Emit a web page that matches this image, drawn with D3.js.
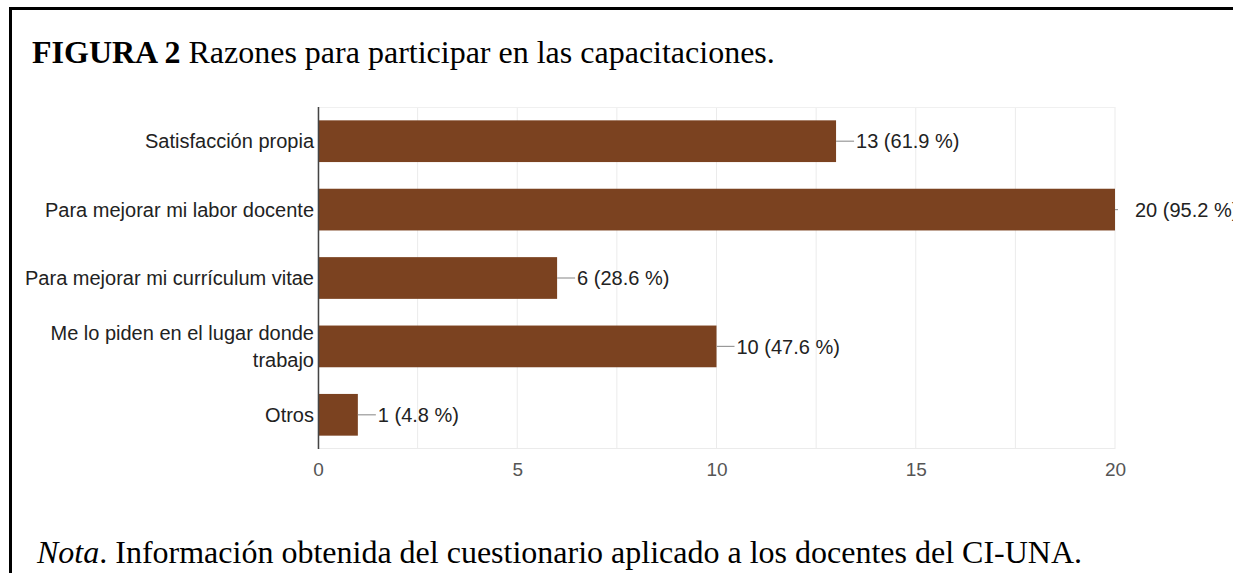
<!DOCTYPE html>
<html>
<head>
<meta charset="utf-8">
<script src="https://cdn.jsdelivr.net/npm/d3@7"></script>
<style>
  body { margin: 0; background: #fff; }
  svg { display: block; }
</style>
</head>
<body>
<div id="chart"></div>
<script>
// Data
const categories = [
    ["Satisfacción propia"],
    ["Para mejorar mi labor docente"],
    ["Para mejorar mi currículum vitae"],
    ["Me lo piden en el lugar donde", "trabajo"],
    ["Otros"]
];
const counts = [13, 20, 6, 10, 1];
const percents = ["61.9", "95.2", "28.6", "47.6", "4.8"];
const xTicks = [0, 5, 10, 15, 20];

const W = 1233, H = 573;
const margin = { top: 107, left: 318, right: 118, bottom: 124 };
const width = W - margin.left - margin.right;
const height = H - margin.top - margin.bottom;

const svg = d3.select("#chart")
    .append("svg")
    .attr("width", W)
    .attr("height", H);

// Frame of the figure (only left and top edges show)
svg.append("path")
    .attr("d", `M10.5,${H} V8.5 H${W}`)
    .attr("fill", "none")
    .attr("stroke", "#000")
    .attr("stroke-width", 3);

// Title
const title = svg.append("text")
    .attr("x", 32)
    .attr("y", 63)
    .style("font-family", "'Liberation Serif', 'Times New Roman', serif")
    .style("font-size", "32px")
    .style("fill", "#000");
title.append("tspan").style("font-weight", "bold").text("FIGURA 2");
title.append("tspan").text(" Razones para participar en las capacitaciones.");

const g = svg.append("g")
    .attr("transform", `translate(${margin.left},${margin.top})`);

const x = d3.scaleLinear().domain([0, 20]).range([0, width]);
const y = d3.scaleBand()
    .domain(d3.range(categories.length))
    .range([0, height])
    .paddingInner(0.39)
    .paddingOuter(0.195);

// Gridlines every 2.5
g.selectAll(".grid")
    .data(d3.range(0, 20.01, 2.5))
    .enter()
    .append("line")
    .attr("class", "grid")
    .attr("x1", d => x(d)).attr("x2", d => x(d))
    .attr("y1", 0).attr("y2", height)
    .style("stroke", "#ebebeb")
    .style("stroke-width", 1);

g.append("line")
    .attr("x1", 0).attr("x2", width)
    .attr("y1", 0.5).attr("y2", 0.5)
    .style("stroke", "#f0f0f0");
g.append("line")
    .attr("x1", 0).attr("x2", width)
    .attr("y1", height - 0.5).attr("y2", height - 0.5)
    .style("stroke", "#ebebeb");

// Bars
g.selectAll(".bar")
    .data(counts)
    .enter()
    .append("rect")
    .attr("class", "bar")
    .attr("x", 0)
    .attr("y", (d, i) => y(i))
    .attr("width", d => x(d))
    .attr("height", y.bandwidth())
    .style("fill", "#7b4220");

// Baseline axis
g.append("line")
    .attr("x1", 0.5).attr("x2", 0.5)
    .attr("y1", 0).attr("y2", height)
    .style("stroke", "#444")
    .style("stroke-width", 1.5);

// Connector lines and value labels
g.selectAll(".leader")
    .data(counts)
    .enter()
    .append("line")
    .attr("class", "leader")
    .attr("x1", d => x(d))
    .attr("x2", d => Math.min(x(d) + 18, width + 3))
    .attr("y1", (d, i) => y(i) + y.bandwidth() / 2)
    .attr("y2", (d, i) => y(i) + y.bandwidth() / 2)
    .style("stroke", "#999")
    .style("stroke-width", 1.2);

g.selectAll(".value")
    .data(counts)
    .enter()
    .append("text")
    .attr("class", "value")
    .attr("x", d => x(d) + 20)
    .attr("y", (d, i) => y(i) + y.bandwidth() / 2)
    .attr("dy", "0.36em")
    .text((d, i) => `${d} (${percents[i]} %)`)
    .style("font-family", "'Liberation Sans', Arial, sans-serif")
    .style("font-size", "20px")
    .style("fill", "#222");

// Category labels
const cat = g.selectAll(".cat")
    .data(categories)
    .enter()
    .append("text")
    .attr("class", "cat")
    .attr("text-anchor", "end")
    .attr("y", (d, i) => y(i) + y.bandwidth() / 2)
    .style("font-family", "'Liberation Sans', Arial, sans-serif")
    .style("font-size", "20px")
    .style("fill", "#222");
cat.each(function(lines) {
    const t = d3.select(this);
    const lh = 27;
    lines.forEach((line, k) => {
        t.append("tspan")
            .attr("x", -4)
            .attr("dy", k === 0 ? (0.36 * 20 - (lines.length - 1) * lh / 2) : lh)
            .text(line);
    });
});

// X axis
const xAxis = g.append("g")
    .attr("transform", `translate(0,${height})`)
    .call(d3.axisBottom(x).tickValues(xTicks).tickSize(0).tickPadding(14));
xAxis.select(".domain").remove();
xAxis.selectAll("text")
    .style("font-family", "'Liberation Sans', Arial, sans-serif")
    .style("font-size", "19px")
    .style("fill", "#555");

// Note
const note = svg.append("text")
    .attr("x", 37)
    .attr("y", 563)
    .style("font-family", "'Liberation Serif', 'Times New Roman', serif")
    .style("font-size", "32px")
    .style("fill", "#000");
note.append("tspan").style("font-style", "italic").text("Nota");
note.append("tspan").text(". Información obtenida del cuestionario aplicado a los docentes del CI-UNA.");
</script>
</body>
</html>
